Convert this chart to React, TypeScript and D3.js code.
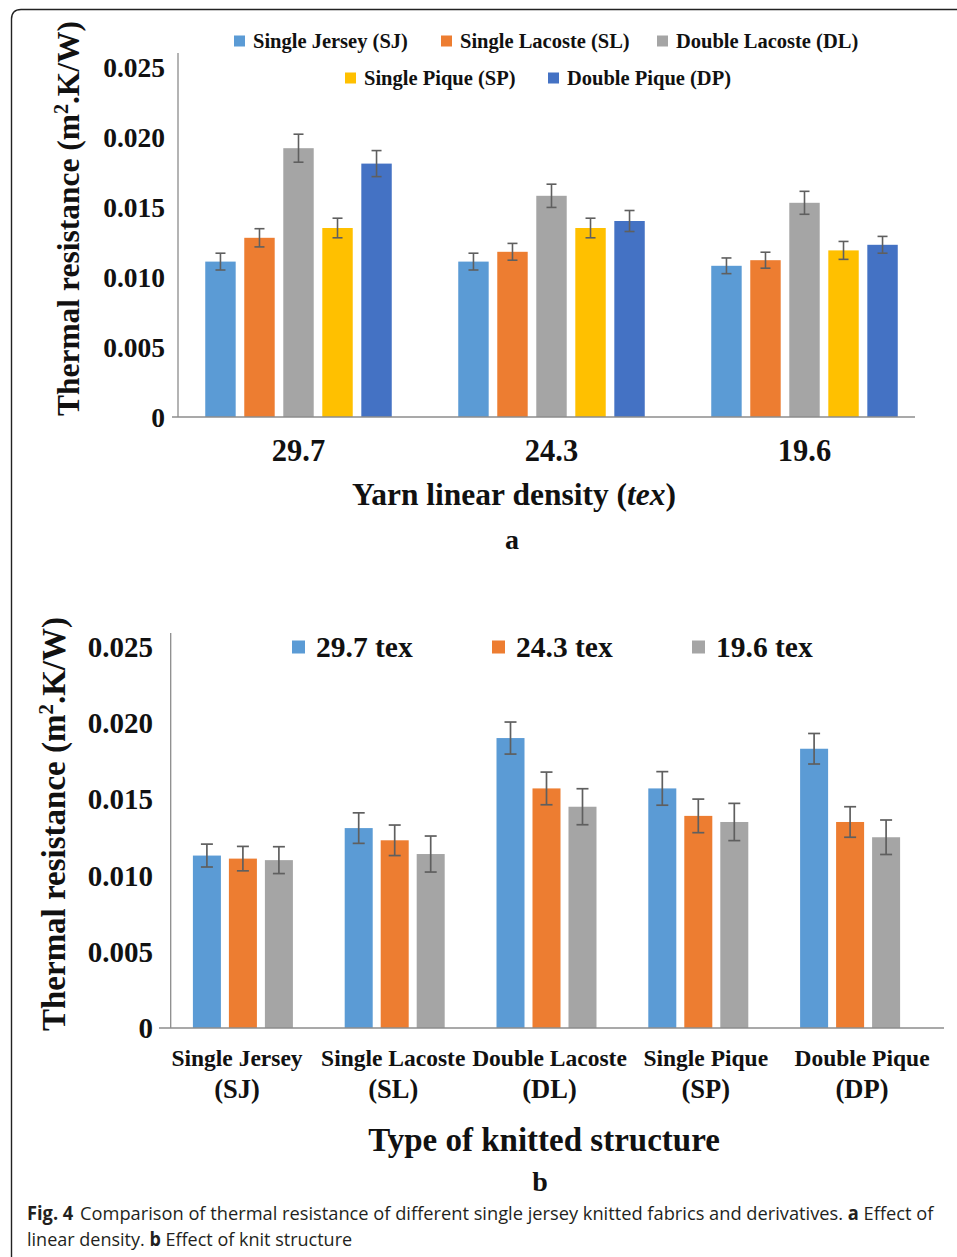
import React, { useLayoutEffect, useRef, useState } from "react";
import * as d3 from "d3";

// ---- Panel a: thermal resistance by yarn linear density ----
const densities = ["29.7", "24.3", "19.6"];
const structureNames = [
  "Single Jersey (SJ)",
  "Single Lacoste (SL)",
  "Double Lacoste (DL)",
  "Single Pique (SP)",
  "Double Pique (DP)",
];
const sjByDensity = [0.0111, 0.0111, 0.0108];
const slByDensity = [0.0128, 0.0118, 0.0112];
const dlByDensity = [0.0192, 0.0158, 0.0153];
const spByDensity = [0.0135, 0.0135, 0.0119];
const dpByDensity = [0.0181, 0.014, 0.0123];
const sjErrA = [0.0006, 0.0006, 0.00056];
const slErrA = [0.00065, 0.0006, 0.00057];
const dlErrA = [0.001, 0.00083, 0.00082];
const spErrA = [0.0007, 0.0007, 0.00064];
const dpErrA = [0.00093, 0.00075, 0.0006];

// ---- Panel b: thermal resistance by knit structure ----
const structureLine1 = ["Single Jersey", "Single Lacoste", "Double Lacoste", "Single Pique", "Double Pique"];
const structureLine2 = ["(SJ)", "(SL)", "(DL)", "(SP)", "(DP)"];
const texNames = ["29.7 tex", "24.3 tex", "19.6 tex"];
const tex297 = [0.0113, 0.0131, 0.019, 0.0157, 0.0183];
const tex243 = [0.0111, 0.0123, 0.0157, 0.0139, 0.0135];
const tex196 = [0.011, 0.0114, 0.0145, 0.0135, 0.0125];
const err297 = [0.00075, 0.001, 0.00105, 0.0011, 0.001];
const err243 = [0.0008, 0.001, 0.00107, 0.0011, 0.001];
const err196 = [0.00088, 0.00118, 0.00118, 0.00122, 0.00113];

const yTicks = [0, 0.005, 0.01, 0.015, 0.02, 0.025];

const colors = ["#5B9BD5", "#ED7D31", "#A5A5A5", "#FFC000", "#4472C4"];
const serif = "'Liberation Serif', 'Times New Roman', serif";
const axisColor = "#8c8c8c";
const errColor = "#5f5f5f";

const fmt = (v: number) => (v === 0 ? "0" : d3.format(".3f")(v));

export default function App() {
  // Caption lines are laid out naturally, then condensed horizontally to their column width
  const cap1 = useRef<SVGTextElement>(null);
  const cap2 = useRef<SVGTextElement>(null);
  const [capScale, setCapScale] = useState<[number, number]>([0.88, 0.88]);
  useLayoutEffect(() => {
    const w1 = cap1.current ? cap1.current.getComputedTextLength() : 0;
    const w2 = cap2.current ? cap2.current.getComputedTextLength() : 0;
    if (w1 > 0 && w2 > 0) setCapScale([899 / w1, 325 / w2]);
  }, []);

  // Panel a scales
  const yA = d3.scaleLinear().domain([0, 0.025]).range([417, 67]);
  const xA = d3.scaleBand<string>().domain(densities).range([172, 931]);
  const innerA = d3.scaleBand<string>().domain(structureNames).range([-93.25, 93.25]).paddingInner(0.22);
  const seriesA = [sjByDensity, slByDensity, dlByDensity, spByDensity, dpByDensity];
  const errA = [sjErrA, slErrA, dlErrA, spErrA, dpErrA];

  // Panel b scales
  const yB = d3.scaleLinear().domain([0, 0.025]).range([1028, 646.5]);
  const xB = d3.scaleBand<string>().domain(structureLine1).range([167, 926]);
  const innerB = d3.scaleBand<string>().domain(texNames).range([-50, 50]).paddingInner(0.222);
  const labelB = d3.scalePoint<string>().domain(structureLine1).range([237, 862]);
  const seriesB = [tex297, tex243, tex196];
  const errB = [err297, err243, err196];

  const legendA = [
    { x: 234, y: 41, i: 0 },
    { x: 441, y: 41, i: 1 },
    { x: 657, y: 41, i: 2 },
    { x: 345, y: 78, i: 3 },
    { x: 548, y: 78, i: 4 },
  ];
  const legendB = [292, 492, 692];

  return (
    <svg
      width={957}
      height={1257}
      style={{ position: "absolute", left: 0, top: 0, background: "#fff" }}
      fontFamily={serif}
    >
      <rect width={957} height={1257} fill="#fff" />
      {/* figure frame */}
      <path d="M11.5,1257 L11.5,19 Q11.5,9.5 21,9.5 L957,9.5" fill="none" stroke="#222" strokeWidth={1.4} />

      {/* ===== Panel a ===== */}
      <g>
        {legendA.map((l) => (
          <g key={l.i}>
            <rect x={l.x} y={l.y - 5.5} width={11} height={11} fill={colors[l.i]} />
            <text x={l.x + 19} y={l.y} dy="0.35em" fontSize={20.5} fontWeight="bold" fill="#111">
              {structureNames[l.i]}
            </text>
          </g>
        ))}

        {yTicks.map((t) => (
          <text key={t} x={165} y={yA(t)} dy="0.35em" textAnchor="end" fontSize={27.5} fontWeight="bold" fill="#111">
            {fmt(t)}
          </text>
        ))}

        {densities.map((d, di) =>
          seriesA.map((s, si) => {
            const x = (xA(d) as number) + xA.bandwidth() / 2 + (innerA(structureNames[si]) as number);
            const w = innerA.bandwidth();
            const v = s[di];
            const e = errA[si][di];
            const cx = x + w / 2;
            return (
              <g key={d + si}>
                <rect x={x} y={yA(v)} width={w} height={yA(0) - yA(v)} fill={colors[si]} />
                <g stroke={errColor} strokeWidth={1.6}>
                  <line x1={cx} x2={cx} y1={yA(v + e)} y2={yA(v - e)} />
                  <line x1={cx - 5} x2={cx + 5} y1={yA(v + e)} y2={yA(v + e)} />
                  <line x1={cx - 5} x2={cx + 5} y1={yA(v - e)} y2={yA(v - e)} />
                </g>
              </g>
            );
          })
        )}

        <line x1={178} x2={178} y1={53} y2={yA(0)} stroke={axisColor} strokeWidth={1.3} />
        <line x1={172} x2={915} y1={yA(0)} y2={yA(0)} stroke={axisColor} strokeWidth={1.3} />

        {densities.map((d) => (
          <text key={d} x={(xA(d) as number) + xA.bandwidth() / 2} y={461} textAnchor="middle" fontSize={30.5} fontWeight="bold" fill="#111">
            {d}
          </text>
        ))}

        <text x={514} y={505} textAnchor="middle" fontSize={31.5} fontWeight="bold" fill="#111">
          Yarn linear density (<tspan fontStyle="italic">tex</tspan>)
        </text>
        <text x={512} y={549} textAnchor="middle" fontSize={28} fontWeight="bold" fill="#111">
          a
        </text>

        <text transform="translate(79,218.5) rotate(-90)" textAnchor="middle" fontSize={31.5} fontWeight="bold" fill="#111">
          Thermal resistance (m<tspan fontSize={20} dy={-11}>2</tspan>
          <tspan dy={11}>.K/W)</tspan>
        </text>
      </g>

      {/* ===== Panel b ===== */}
      <g>
        {legendB.map((lx, i) => (
          <g key={i}>
            <rect x={lx} y={640.5} width={13} height={13} fill={colors[i]} />
            <text x={lx + 24} y={647} dy="0.35em" fontSize={29.5} fontWeight="bold" fill="#111">
              {texNames[i]}
            </text>
          </g>
        ))}

        {yTicks.map((t) => (
          <text key={t} x={153} y={yB(t)} dy="0.35em" textAnchor="end" fontSize={29} fontWeight="bold" fill="#111">
            {fmt(t)}
          </text>
        ))}

        {structureLine1.map((c, ci) =>
          seriesB.map((s, si) => {
            const x = (xB(c) as number) + xB.bandwidth() / 2 + (innerB(texNames[si]) as number);
            const w = innerB.bandwidth();
            const v = s[ci];
            const e = errB[si][ci];
            const cx = x + w / 2;
            return (
              <g key={c + si}>
                <rect x={x} y={yB(v)} width={w} height={yB(0) - yB(v)} fill={colors[si]} />
                <g stroke={errColor} strokeWidth={1.7}>
                  <line x1={cx} x2={cx} y1={yB(v + e)} y2={yB(v - e)} />
                  <line x1={cx - 6} x2={cx + 6} y1={yB(v + e)} y2={yB(v + e)} />
                  <line x1={cx - 6} x2={cx + 6} y1={yB(v - e)} y2={yB(v - e)} />
                </g>
              </g>
            );
          })
        )}

        <line x1={170.7} x2={170.7} y1={633} y2={yB(0)} stroke={axisColor} strokeWidth={1.3} />
        <line x1={159} x2={944} y1={yB(0)} y2={yB(0)} stroke={axisColor} strokeWidth={1.3} />

        {structureLine1.map((c, i) => (
          <g key={c}>
            <text x={labelB(c)} y={1066} textAnchor="middle" fontSize={23.5} fontWeight="bold" fill="#111">
              {c}
            </text>
            <text x={labelB(c)} y={1098} textAnchor="middle" fontSize={26.5} fontWeight="bold" fill="#111">
              {structureLine2[i]}
            </text>
          </g>
        ))}

        <text x={544} y={1151} textAnchor="middle" fontSize={33} fontWeight="bold" fill="#111">
          Type of knitted structure
        </text>
        <text x={540} y={1191} textAnchor="middle" fontSize={28} fontWeight="bold" fill="#111">
          b
        </text>

        <text transform="translate(65,824) rotate(-90)" textAnchor="middle" fontSize={33} fontWeight="bold" fill="#111">
          Thermal resistance (m<tspan fontSize={21} dy={-12}>2</tspan>
          <tspan dy={12}>.K/W)</tspan>
        </text>
      </g>

      {/* caption */}
      <g fontFamily="'Open Sans', 'Noto Sans', sans-serif" fill="#231f20" fontSize={19}>
        <text ref={cap1} transform={`translate(27,1220) scale(${capScale[0]},1)`}>
          <tspan fontWeight="bold">Fig. 4</tspan>
          <tspan dx={7}>Comparison of thermal resistance of different single jersey knitted fabrics and derivatives. </tspan>
          <tspan fontWeight="bold">a</tspan>
          <tspan> Effect of</tspan>
        </text>
        <text ref={cap2} transform={`translate(27,1246) scale(${capScale[1]},1)`}>
          <tspan>linear density. </tspan>
          <tspan fontWeight="bold">b</tspan>
          <tspan> Effect of knit structure</tspan>
        </text>
      </g>
    </svg>
  );
}
